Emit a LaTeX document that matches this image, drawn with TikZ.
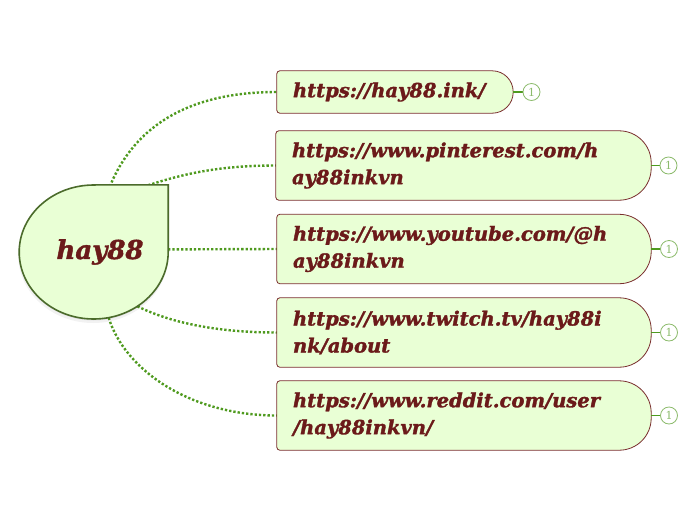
\documentclass[tikz,border=0pt]{standalone}
\usepackage{fontspec}
\setmainfont{DejaVu Serif}[BoldItalicFeatures={FakeBold=1.6}]
\usetikzlibrary{positioning, backgrounds, shapes.geometric}

\definecolor{leaf}{HTML}{E9FFD5}
\definecolor{wine}{HTML}{6B1A1A}
\definecolor{wineline}{HTML}{7A2E2E}
\definecolor{hubline}{HTML}{4B6B2B}
\definecolor{dotgreen}{HTML}{4F9A1F}
\definecolor{badgegreen}{HTML}{8CBB6C}

\tikzset{
    topic/.style={rectangle, inner xsep=16pt, inner ysep=0pt, align=left, text=wine,
        font=\fontsize{19.5}{27}\selectfont\bfseries\itshape},
    topicline/.style={draw=wineline, fill=leaf, line width=0.8pt},
    hubnode/.style={ellipse, inner sep=0pt, minimum width=149pt, minimum height=134pt, text=wine,
        font=\fontsize{26}{30}\selectfont\bfseries\itshape},
    hubline/.style={draw=hubline, fill=leaf, line width=1.6pt},
    dotlink/.style={draw=dotgreen, line width=2.4pt, dash pattern=on 2.3pt off 2pt},
    badge/.style={circle, draw=badgegreen, fill=white, line width=0.8pt, minimum size=17pt, inner sep=0pt,
        text=badgegreen, font=\fontsize{11}{11}\selectfont},
    badgelink/.style={draw=dotgreen, line width=1.4pt}
}

\begin{document}
\begin{tikzpicture}[x=1pt, y=-1pt]
    \useasboundingbox (0,0) rectangle (697,520);

    % Centre
    \node[hubnode] (hub) at (93.5,252) {\hspace*{13pt}hay88};

    % Topics
    \node[topic, text width=204pt, minimum height=42pt] (t1) at (395,92) {https://hay88.ink/};
    \node[topic, text width=343pt, minimum height=69pt] (t2) at (463.5,165.5) {https://www.pinterest.com/h\\ay88inkvn};
    \node[topic, text width=342pt, minimum height=69pt] (t3) at (464,249) {https://www.youtube.com/@h\\ay88inkvn};
    \node[topic, text width=342pt, minimum height=69pt] (t4) at (464,332.5) {https://www.twitch.tv/hay88i\\nk/about};
    \node[topic, text width=342pt, minimum height=69pt] (t5) at (464,415.5) {https://www.reddit.com/user\\/hay88inkvn/};

    % Badges
    \node[badge] (c1) at (531.5,92) {1};
    \node[badge] (c2) at (668.5,165.5) {1};
    \node[badge] (c3) at (669,249) {1};
    \node[badge] (c4) at (669,332.5) {1};
    \node[badge] (c5) at (669,415.5) {1};

    \begin{scope}[on background layer]
        % Links from the centre
        \draw[dotlink] (hub.76) .. controls (135,125) and (190,92) .. (t1.west);
        \draw[dotlink] (hub.60) .. controls (175,175) and (215,165.5) .. (t2.west);
        \draw[dotlink] (hub.2) -- (t3.west);
        \draw[dotlink] (hub.-51) .. controls (175,325) and (225,332.5) .. (t4.west);
        \draw[dotlink] (hub.-77) .. controls (125,370) and (190,415.5) .. (t5.west);

        % Centre outline, soft shadow first
        \fill[black, opacity=0.05, transform canvas={yshift=-3pt}] (hub.north) -| (hub.east) arc[start angle=0, end angle=-270, x radius=75pt, y radius=68pt] -- cycle;
        \fill[black, opacity=0.07, transform canvas={yshift=-1.5pt}] (hub.north) -| (hub.east) arc[start angle=0, end angle=-270, x radius=74.5pt, y radius=67pt] -- cycle;
        \path[hubline] (hub.north) -| (hub.east) arc[start angle=0, end angle=-270, x radius=74.5pt, y radius=67pt] -- cycle;

        % Topic outlines
        \path[topicline] (t1.west) [rounded corners=3pt] |- (t1.north) [rounded corners=21pt] -- (t1.north east) -- (t1.south east) -- (t1.south) [rounded corners=3pt] -| (t1.west) -- cycle;
        \path[topicline] (t2.west) [rounded corners=3pt] |- (t2.north) [rounded corners=32pt] -- (t2.north east) -- (t2.south east) -- (t2.south) [rounded corners=3pt] -| (t2.west) -- cycle;
        \path[topicline] (t3.west) [rounded corners=3pt] |- (t3.north) [rounded corners=32pt] -- (t3.north east) -- (t3.south east) -- (t3.south) [rounded corners=3pt] -| (t3.west) -- cycle;
        \path[topicline] (t4.west) [rounded corners=3pt] |- (t4.north) [rounded corners=32pt] -- (t4.north east) -- (t4.south east) -- (t4.south) [rounded corners=3pt] -| (t4.west) -- cycle;
        \path[topicline] (t5.west) [rounded corners=3pt] |- (t5.north) [rounded corners=32pt] -- (t5.north east) -- (t5.south east) -- (t5.south) [rounded corners=3pt] -| (t5.west) -- cycle;

        % Badge stubs
        \draw[badgelink] (t1.east) -- (c1);
        \draw[badgelink] (t2.east) -- (c2);
        \draw[badgelink] (t3.east) -- (c3);
        \draw[badgelink] (t4.east) -- (c4);
        \draw[badgelink] (t5.east) -- (c5);
    \end{scope}
\end{tikzpicture}
\end{document}
